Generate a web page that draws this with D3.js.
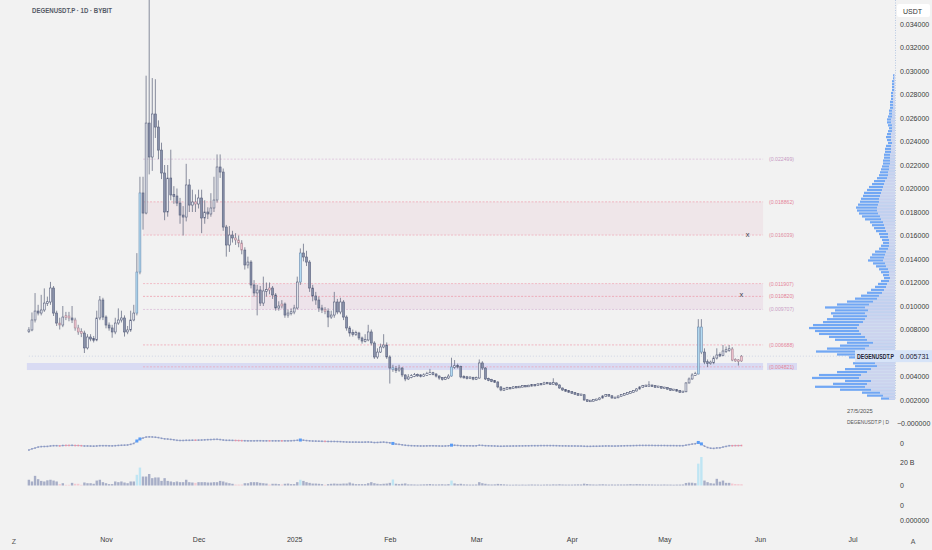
<!DOCTYPE html>
<html>
<head>
<meta charset="utf-8">
<script src="https://cdn.jsdelivr.net/npm/d3@7"></script>
<style>
  body { margin: 0; background: #f2f2f2; }
  svg { display: block; font-family: "Liberation Sans", Arial, sans-serif; }
</style>
</head>
<body>
<script>
// ---- data ----
var symbol = "DEGENUSDT.P";
var titleText = "DEGENUSDT.P · 1D · BYBIT";
var firstOpen = 0.00783;

var closes = [
  0.00796, 0.00881, 0.00957, 0.00940, 0.00966, 0.01025, 0.01034, 0.01153, 0.00940, 0.00855,
  0.00838, 0.00906, 0.00915, 0.00898, 0.00881, 0.00813, 0.00779, 0.00770, 0.00643, 0.00736,
  0.00719, 0.00711, 0.00898, 0.01051, 0.00906, 0.00838, 0.00813, 0.00779, 0.00855, 0.00881,
  0.00898, 0.00779, 0.00796, 0.00881, 0.00940, 0.01289, 0.01962, 0.01791, 0.02557, 0.02268,
  0.02634, 0.02523, 0.02327, 0.02132, 0.01800, 0.02089, 0.01945, 0.01936, 0.01876, 0.01774,
  0.01757, 0.02030, 0.01859, 0.01885, 0.01868, 0.01919, 0.01749, 0.01800, 0.01783, 0.01834,
  0.01902, 0.02183, 0.02140, 0.01672, 0.01519, 0.01604, 0.01579, 0.01562, 0.01536, 0.01476,
  0.01349, 0.01374, 0.01179, 0.01111, 0.01136, 0.01025, 0.01128, 0.01136, 0.01153, 0.01094,
  0.00983, 0.01000, 0.01017, 0.00923, 0.00940, 0.00949, 0.00983, 0.01204, 0.01451, 0.01417,
  0.01374, 0.01153, 0.01085, 0.01051, 0.00983, 0.00966, 0.00957, 0.00906, 0.00923, 0.01034,
  0.00949, 0.01034, 0.00906, 0.00813, 0.00770, 0.00762, 0.00770, 0.00728, 0.00702, 0.00711,
  0.00779, 0.00685, 0.00566, 0.00608, 0.00651, 0.00668, 0.00566, 0.00472, 0.00464, 0.00455,
  0.00472, 0.00413, 0.00379, 0.00396, 0.00404, 0.00413, 0.00410, 0.00404, 0.00413, 0.00421,
  0.00430, 0.00421, 0.00404, 0.00387, 0.00379, 0.00387, 0.00404, 0.00481, 0.00489, 0.00485,
  0.00396, 0.00394, 0.00387, 0.00390, 0.00379, 0.00387, 0.00515, 0.00472, 0.00379, 0.00370,
  0.00362, 0.00353, 0.00311, 0.00285, 0.00294, 0.00302, 0.00300, 0.00311, 0.00308, 0.00313,
  0.00319, 0.00317, 0.00321, 0.00328, 0.00325, 0.00336, 0.00334, 0.00345, 0.00343, 0.00336,
  0.00345, 0.00328, 0.00302, 0.00285, 0.00277, 0.00268, 0.00260, 0.00251, 0.00243, 0.00245,
  0.00200, 0.00191, 0.00193, 0.00200, 0.00203, 0.00217, 0.00234, 0.00243, 0.00236, 0.00217,
  0.00219, 0.00234, 0.00243, 0.00251, 0.00260, 0.00268, 0.00277, 0.00294, 0.00311, 0.00319,
  0.00321, 0.00323, 0.00319, 0.00311, 0.00313, 0.00302, 0.00304, 0.00294, 0.00285, 0.00287,
  0.00277, 0.00268, 0.00270, 0.00345, 0.00379, 0.00413, 0.00421, 0.00821, 0.00608, 0.00523,
  0.00515, 0.00517, 0.00557, 0.00583, 0.00580, 0.00617, 0.00625, 0.00634, 0.00540, 0.00538,
  0.00532, 0.005731
];

var highs = [
  0.00820, 0.00945, 0.01110, 0.01010, 0.01095, 0.01150, 0.01080, 0.01205, 0.01170, 0.00960,
  0.00900, 0.01000, 0.00950, 0.00950, 0.01000, 0.00900, 0.00840, 0.00810, 0.00790, 0.00760,
  0.00760, 0.00745, 0.00960, 0.01085, 0.01070, 0.00920, 0.00860, 0.00840, 0.00900, 0.00980,
  0.00960, 0.00920, 0.00830, 0.00960, 0.01010, 0.01450, 0.02100, 0.02100, 0.02960, 0.03720,
  0.02940, 0.02930, 0.02580, 0.02390, 0.02200, 0.02200, 0.02330, 0.02020, 0.02000, 0.01920,
  0.01850, 0.02210, 0.02080, 0.01990, 0.01950, 0.01990, 0.01990, 0.01900, 0.01840, 0.01960,
  0.02100, 0.02290, 0.02290, 0.02170, 0.01690, 0.01680, 0.01640, 0.01620, 0.01600, 0.01560,
  0.01500, 0.01420, 0.01390, 0.01220, 0.01180, 0.01170, 0.01250, 0.01200, 0.01200, 0.01170,
  0.01110, 0.01040, 0.01050, 0.01030, 0.00970, 0.00980, 0.01010, 0.01250, 0.01490, 0.01530,
  0.01470, 0.01390, 0.01180, 0.01120, 0.01080, 0.01010, 0.00990, 0.00980, 0.00960, 0.01120,
  0.01060, 0.01070, 0.01050, 0.00920, 0.00830, 0.00800, 0.00790, 0.00780, 0.00740, 0.00760,
  0.00840, 0.00800, 0.00700, 0.00640, 0.00680, 0.00760, 0.00690, 0.00580, 0.00500, 0.00490,
  0.00500, 0.00480, 0.00420, 0.00420, 0.00420, 0.00430, 0.00425, 0.00420, 0.00428, 0.00440,
  0.00465, 0.00440, 0.00428, 0.00410, 0.00395, 0.00400, 0.00420, 0.00560, 0.00540, 0.00510,
  0.00492, 0.00410, 0.00405, 0.00402, 0.00398, 0.00400, 0.00545, 0.00530, 0.00480, 0.00390,
  0.00380, 0.00370, 0.00360, 0.00318, 0.00305, 0.00312, 0.00310, 0.00318, 0.00316, 0.00320,
  0.00326, 0.00325, 0.00330, 0.00336, 0.00334, 0.00344, 0.00342, 0.00355, 0.00352, 0.00348,
  0.00385, 0.00350, 0.00332, 0.00306, 0.00290, 0.00282, 0.00274, 0.00265, 0.00256, 0.00252,
  0.00250, 0.00205, 0.00200, 0.00206, 0.00210, 0.00224, 0.00242, 0.00250, 0.00248, 0.00240,
  0.00226, 0.00240, 0.00250, 0.00258, 0.00266, 0.00275, 0.00284, 0.00302, 0.00318, 0.00328,
  0.00330, 0.00360, 0.00330, 0.00326, 0.00320, 0.00318, 0.00312, 0.00309, 0.00298, 0.00293,
  0.00292, 0.00282, 0.00276, 0.00352, 0.00392, 0.00428, 0.00440, 0.00888, 0.00888, 0.00640,
  0.00545, 0.00535, 0.00575, 0.00640, 0.00605, 0.00668, 0.00655, 0.00668, 0.00650, 0.00555,
  0.00548, 0.00582
];

var lows = [
  0.00770, 0.00785, 0.00860, 0.00920, 0.00920, 0.00950, 0.01000, 0.01010, 0.00915, 0.00830,
  0.00800, 0.00820, 0.00880, 0.00870, 0.00855, 0.00790, 0.00755, 0.00735, 0.00600, 0.00630,
  0.00700, 0.00690, 0.00700, 0.00880, 0.00880, 0.00810, 0.00790, 0.00730, 0.00760, 0.00840,
  0.00860, 0.00740, 0.00760, 0.00780, 0.00870, 0.00920, 0.01270, 0.01650, 0.01780, 0.02120,
  0.02150, 0.02430, 0.02250, 0.02080, 0.01730, 0.01760, 0.01900, 0.01870, 0.01850, 0.01700,
  0.01600, 0.01720, 0.01800, 0.01800, 0.01800, 0.01830, 0.01620, 0.01700, 0.01740, 0.01760,
  0.01800, 0.01880, 0.02090, 0.01640, 0.01420, 0.01460, 0.01540, 0.01520, 0.01500, 0.01440,
  0.01310, 0.01320, 0.01150, 0.01080, 0.00920, 0.01000, 0.01000, 0.01080, 0.01100, 0.01060,
  0.00960, 0.00960, 0.00980, 0.00900, 0.00900, 0.00920, 0.00930, 0.00970, 0.01180, 0.01380,
  0.01340, 0.01120, 0.01040, 0.01010, 0.00950, 0.00940, 0.00930, 0.00820, 0.00890, 0.00900,
  0.00930, 0.00930, 0.00880, 0.00790, 0.00740, 0.00740, 0.00745, 0.00710, 0.00680, 0.00690,
  0.00700, 0.00665, 0.00550, 0.00550, 0.00600, 0.00640, 0.00550, 0.00340, 0.00440, 0.00430,
  0.00440, 0.00395, 0.00360, 0.00370, 0.00385, 0.00395, 0.00398, 0.00392, 0.00398, 0.00405,
  0.00412, 0.00410, 0.00392, 0.00372, 0.00365, 0.00370, 0.00378, 0.00398, 0.00465, 0.00468,
  0.00385, 0.00382, 0.00375, 0.00378, 0.00368, 0.00370, 0.00380, 0.00455, 0.00370, 0.00360,
  0.00352, 0.00345, 0.00300, 0.00275, 0.00278, 0.00288, 0.00292, 0.00295, 0.00300, 0.00302,
  0.00308, 0.00310, 0.00312, 0.00316, 0.00318, 0.00320, 0.00328, 0.00330, 0.00336, 0.00330,
  0.00332, 0.00322, 0.00296, 0.00278, 0.00270, 0.00262, 0.00254, 0.00245, 0.00237, 0.00238,
  0.00194, 0.00185, 0.00186, 0.00188, 0.00195, 0.00198, 0.00212, 0.00228, 0.00230, 0.00212,
  0.00212, 0.00214, 0.00229, 0.00238, 0.00246, 0.00255, 0.00263, 0.00272, 0.00288, 0.00305,
  0.00312, 0.00314, 0.00312, 0.00305, 0.00305, 0.00296, 0.00296, 0.00288, 0.00279, 0.00280,
  0.00272, 0.00262, 0.00262, 0.00266, 0.00340, 0.00372, 0.00405, 0.00418, 0.00590, 0.00505,
  0.00480, 0.00500, 0.00505, 0.00545, 0.00565, 0.00572, 0.00600, 0.00610, 0.00530, 0.00525,
  0.00493, 0.00525
];

// daily volume, billions
var volumes = [
  5.0, 3.5, 8.4, 5.5, 4.0, 3.5, 4.5, 5.0, 4.3, 3.5,
  1.2, 2.0, 0.6, 0.6, 2.3, 1.5, 1.5, 0.6, 2.6, 2.0,
  2.0, 1.5, 4.3, 5.0, 2.9, 2.0, 1.2, 1.2, 3.5, 2.9,
  3.5, 2.6, 2.0, 3.5, 3.5, 9.3, 15.6, 7.8, 7.8, 10.0,
  6.4, 7.0, 7.0, 4.0, 6.4, 4.0, 3.5, 2.9, 3.5, 2.9,
  2.9, 5.0, 2.9, 2.6, 2.3, 2.9, 2.9, 2.9, 2.6, 2.6,
  2.9, 2.9, 4.0, 3.5, 2.6, 2.0, 1.5, 0.8, 0.8, 0.8,
  2.0, 2.0, 2.9, 2.9, 2.9, 2.3, 2.0, 1.7, 0.8, 1.5,
  1.5, 1.2, 0.8, 1.5, 1.7, 1.2, 1.2, 2.9, 5.0, 4.0,
  2.9, 2.3, 1.7, 1.7, 1.5, 1.2, 0.6, 1.2, 1.5, 1.7,
  1.5, 1.5, 1.7, 1.7, 2.6, 1.7, 1.2, 1.2, 1.2, 1.2,
  2.0, 2.9, 2.0, 1.5, 1.2, 1.5, 1.7, 2.3, 5.2, 1.5,
  1.2, 1.5, 1.8, 1.0, 1.0, 0.9, 0.8, 0.9, 1.0, 1.1,
  1.3, 1.0, 0.9, 1.0, 1.1, 0.9, 1.2, 4.3, 1.8, 1.2,
  1.5, 1.0, 0.9, 0.8, 0.8, 0.9, 2.9, 2.0, 1.5, 1.0,
  0.9, 1.0, 1.4, 1.2, 1.0, 0.8, 0.7, 0.7, 0.8, 0.7,
  0.8, 0.7, 0.8, 0.9, 0.8, 0.8, 0.7, 0.8, 0.9, 0.8,
  1.0, 0.9, 1.1, 0.9, 0.8, 0.8, 0.8, 0.9, 1.0, 0.9,
  1.6, 1.3, 1.0, 0.9, 0.8, 1.0, 1.1, 0.9, 0.8, 0.9,
  0.8, 0.9, 0.9, 0.9, 1.0, 1.2, 1.0, 1.2, 1.1, 1.0,
  0.9, 1.0, 0.9, 0.8, 0.8, 0.8, 0.9, 0.8, 0.8, 0.7,
  0.8, 0.8, 0.9, 2.2, 2.5, 2.4, 2.0, 19.0, 24.8, 4.3,
  2.9, 2.0, 1.7, 5.8, 3.3, 4.3, 2.3, 2.3, 1.7, 1.3,
  1.2, 1.1
];

// oscillator shown in the first lower pane
var osc = [
  -0.78, -0.65, -0.56, -0.45, -0.40, -0.39, -0.38, -0.33, -0.30, -0.30,
  -0.32, -0.28, -0.27, -0.27, -0.26, -0.28, -0.28, -0.30, -0.33, -0.33,
  -0.34, -0.35, -0.33, -0.30, -0.30, -0.30, -0.31, -0.32, -0.30, -0.27,
  -0.25, -0.24, -0.22, -0.15, -0.05, 0.22, 0.45, 0.55, 0.66, 0.68,
  0.67, 0.64, 0.60, 0.52, 0.46, 0.44, 0.40, 0.36, 0.30, 0.28,
  0.28, 0.30, 0.30, 0.31, 0.31, 0.32, 0.33, 0.35, 0.37, 0.38,
  0.40, 0.41, 0.38, 0.33, 0.30, 0.30, 0.29, 0.28, 0.27, 0.26,
  0.25, 0.24, 0.24, 0.24, 0.25, 0.25, 0.24, 0.24, 0.24, 0.24,
  0.24, 0.24, 0.24, 0.24, 0.24, 0.25, 0.27, 0.30, 0.33, 0.31,
  0.27, 0.24, 0.22, 0.21, 0.20, 0.19, 0.18, 0.17, 0.17, 0.17,
  0.16, 0.15, 0.13, 0.11, 0.10, 0.10, 0.10, 0.09, 0.09, 0.10,
  0.11, 0.09, 0.05, 0.06, 0.08, 0.10, 0.06, 0.02, -0.05, -0.12,
  -0.15, -0.20, -0.25, -0.28, -0.30, -0.31, -0.32, -0.33, -0.33, -0.32,
  -0.31, -0.31, -0.32, -0.33, -0.34, -0.33, -0.31, -0.24, -0.25, -0.27,
  -0.30, -0.31, -0.31, -0.31, -0.32, -0.31, -0.25, -0.27, -0.30, -0.31,
  -0.32, -0.33, -0.35, -0.36, -0.35, -0.34, -0.34, -0.33, -0.33, -0.32,
  -0.32, -0.31, -0.31, -0.30, -0.30, -0.30, -0.29, -0.29, -0.29, -0.29,
  -0.29, -0.30, -0.31, -0.32, -0.32, -0.33, -0.33, -0.33, -0.34, -0.34,
  -0.36, -0.37, -0.37, -0.36, -0.36, -0.35, -0.34, -0.33, -0.33, -0.34,
  -0.34, -0.33, -0.32, -0.31, -0.30, -0.30, -0.29, -0.28, -0.27, -0.27,
  -0.27, -0.27, -0.27, -0.28, -0.28, -0.28, -0.28, -0.29, -0.29, -0.29,
  -0.30, -0.30, -0.30, -0.24, -0.18, -0.12, -0.08, 0.06, -0.10, -0.35,
  -0.50, -0.58, -0.60, -0.55, -0.54, -0.45, -0.38, -0.30, -0.30, -0.29,
  -0.29, -0.28
];

// horizontal levels and zones
var levelPrices = [0.022499, 0.018862, 0.016039, 0.011907, 0.010820, 0.009707, 0.006688, 0.004821];
var zoneLow = [0.016039, 0.009707];
var zoneHigh = [0.018862, 0.011907];
var zoneStart = [new Date(2024, 10, 13), new Date(2024, 11, 18)];
var bandLow = 0.00455, bandHigh = 0.00515;
var markDates = [new Date(2025, 4, 28), new Date(2025, 4, 26)];
var markPrices = [0.01587, 0.01077];

// visible range volume profile, bins of 0.00025 from 0.002
var vpStart = 0.002, vpStep = 0.00025;
var vpTotal = [
  14, 28, 33, 55, 80, 62, 50, 83, 76, 58,
  50, 40, 42, 36, 46, 58, 79, 68, 55, 48,
  60, 66, 76, 80, 86, 82, 72, 68, 62, 64,
  60, 70, 58, 48, 40, 34, 28, 24, 20, 17,
  14, 11, 12, 14, 16, 19, 22, 27, 25, 23,
  20, 16, 14, 12, 13, 15, 16, 19, 21, 23,
  25, 30, 33, 36, 38, 39, 37, 35, 34, 32,
  31, 28, 26, 23, 21, 18, 16, 15, 14, 13,
  12, 12, 11, 11, 10, 10, 9, 7, 8, 9,
  8, 7, 6, 7, 8, 8, 7, 6, 6, 5,
  5, 5, 4, 4, 4, 3, 3, 3, 3, 2,
  2
];
var vpDown = [
  6, 12, 15, 24, 30, 28, 24, 36, 34, 28,
  24, 18, 20, 17, 20, 26, 34, 30, 26, 22,
  28, 30, 34, 36, 38, 36, 32, 30, 28, 30,
  27, 30, 26, 22, 18, 16, 13, 11, 9, 8,
  6, 5, 6, 6, 7, 9, 10, 12, 11, 10,
  9, 7, 6, 6, 6, 7, 7, 9, 10, 11,
  12, 14, 15, 17, 18, 18, 17, 16, 16, 15,
  14, 13, 12, 11, 10, 8, 7, 7, 6, 6,
  5, 5, 5, 5, 4, 4, 4, 3, 4, 4,
  4, 3, 3, 3, 4, 4, 3, 3, 3, 2,
  2, 2, 2, 2, 2, 1, 1, 1, 1, 1,
  1
];

var tickDates = [new Date(2024, 10, 1), new Date(2024, 11, 1), new Date(2025, 0, 1), new Date(2025, 1, 1),
  new Date(2025, 2, 1), new Date(2025, 3, 1), new Date(2025, 4, 1), new Date(2025, 5, 1), new Date(2025, 6, 1)];
var tickLabels = ["Nov", "Dec", "2025", "Feb", "Mar", "Apr", "May", "Jun", "Jul"];

// ---- chart ----
var w = 932, h = 550;
var svg = d3.select("body").append("svg").attr("width", w).attr("height", h);
svg.append("rect").attr("width", w).attr("height", h).attr("fill", "#f2f2f2");

var startDay = new Date(2024, 9, 7);
var candles = closes.map(function (c, i) {
  var o = i === 0 ? firstOpen : closes[i - 1];
  var avg = d3.mean(volumes.slice(Math.max(0, i - 19), i + 1));
  var r = volumes[i] / avg;
  return {
    date: d3.timeDay.offset(startDay, i), o: o, c: c, h: highs[i], l: lows[i], v: volumes[i], osc: osc[i],
    tone: r > 2.5 ? "high" : (r < 0.45 ? "low" : (c >= o ? "up" : "down"))
  };
});

var xScale = d3.scaleTime().domain([new Date(2024, 10, 1), new Date(2025, 5, 1)]).range([106, 760]);
var yScale = d3.scaleLinear().domain([0, 0.034]).range([423.5, 24]);
var volScale = d3.scaleLinear().domain([0, 20]).range([485.5, 462.5]);
var oscScale = d3.scaleLinear().domain([-1, 1]).range([452, 434]);
var vpScale = d3.scaleLinear().domain([0, 86]).range([0, 86]);

var fills = { up: "#eceef4", down: "#8891aa", high: "#b3dbf3", low: "#f3c5d0" };
var strokes = { up: "#59607c", down: "#59607c", high: "#6d8db0", low: "#a98a98" };
var volFills = { up: "#a7aec7", down: "#a7aec7", high: "#bfe5f3", low: "#f3c9d1" };

svg.append("clipPath").attr("id", "pane").append("rect")
  .attr("x", 0).attr("y", 0).attr("width", 896).attr("height", 428);
var pane = svg.append("g").attr("clip-path", "url(#pane)");

var levelEnd = new Date(2025, 5, 2);
var levelStart = new Date(2024, 10, 13);

// support band
pane.append("rect")
  .attr("x", xScale(startDay) - 2).attr("width", xScale(levelEnd) - xScale(startDay) + 2)
  .attr("y", yScale(bandHigh)).attr("height", yScale(bandLow) - yScale(bandHigh))
  .attr("fill", "#d9dbf3");

// zones
zoneLow.forEach(function (lo, i) {
  pane.append("rect")
    .attr("x", xScale(zoneStart[i])).attr("width", xScale(levelEnd) - xScale(zoneStart[i]))
    .attr("y", yScale(zoneHigh[i])).attr("height", yScale(lo) - yScale(zoneHigh[i]))
    .attr("fill", i === 0 ? "#efe6e9" : "#ede3ea");
});

var levelLine = ["#dcc0da", "#f0a8b6", "#f0b0bd", "#f0aebb", "#ee9fae", "#dbbcd8", "#f0a8b6", "#eaa8bc"];
var levelText = ["#c89bc4", "#e5859a", "#e08ca0", "#e5869a", "#e27f94", "#c99dc5", "#e5859a", "#e5859a"];

pane.selectAll("line.level").data(levelPrices).enter().append("line")
  .attr("class", "level")
  .attr("x1", xScale(levelStart)).attr("x2", xScale(levelEnd))
  .attr("y1", function (d) { return yScale(d); }).attr("y2", function (d) { return yScale(d); })
  .attr("stroke", function (d, i) { return levelLine[i]; })
  .attr("stroke-width", 0.8).attr("stroke-dasharray", "2,1.5");

// last price line
var last = candles[candles.length - 1];
pane.append("line")
  .attr("x1", xScale(startDay)).attr("x2", 896)
  .attr("y1", yScale(last.c)).attr("y2", yScale(last.c))
  .attr("stroke", "#c3cadf").attr("stroke-width", 0.7).attr("stroke-dasharray", "1,2");

// volume profile
var vpRows = vpTotal.map(function (t, i) {
  return { lo: vpStart + i * vpStep, hi: vpStart + (i + 1) * vpStep, total: t, down: vpDown[i] };
});
var vp = pane.append("g");
vp.selectAll("rect.vpt").data(vpRows).enter().append("rect")
  .attr("class", "vpt")
  .attr("x", function (d) { return 895 - vpScale(d.total); })
  .attr("width", function (d) { return vpScale(d.total); })
  .attr("y", function (d) { return yScale(d.hi) + 0.35; })
  .attr("height", function (d) { return yScale(d.lo) - yScale(d.hi) - 0.7; })
  .attr("fill", "#5e9cf4").attr("opacity", 0.88);
vp.selectAll("rect.vpd").data(vpRows).enter().append("rect")
  .attr("class", "vpd")
  .attr("x", function (d) { return 895 - vpScale(d.down); })
  .attr("width", function (d) { return vpScale(d.down); })
  .attr("y", function (d) { return yScale(d.hi) + 0.35; })
  .attr("height", function (d) { return yScale(d.lo) - yScale(d.hi) - 0.7; })
  .attr("fill", "#e4e0ec").attr("opacity", 0.8);

svg.append("line").attr("x1", 895.5).attr("x2", 895.5).attr("y1", 0).attr("y2", 400)
  .attr("stroke", "#9fb7dc").attr("stroke-width", 0.7).attr("stroke-dasharray", "1,1.5");

// candles
var bw = 1.9;
var cg = pane.selectAll("g.candle").data(candles).enter().append("g").attr("class", "candle");
cg.append("line")
  .attr("x1", function (d) { return xScale(d.date); }).attr("x2", function (d) { return xScale(d.date); })
  .attr("y1", function (d) { return yScale(d.h); }).attr("y2", function (d) { return yScale(d.l); })
  .attr("stroke", "#6b7186").attr("stroke-width", 0.8);
cg.append("rect")
  .attr("x", function (d) { return xScale(d.date) - bw / 2; })
  .attr("width", bw)
  .attr("y", function (d) {
    var top = yScale(Math.max(d.o, d.c)), hgt = Math.abs(yScale(d.o) - yScale(d.c));
    return hgt < 1.6 ? top - (1.6 - hgt) / 2 : top;
  })
  .attr("height", function (d) { return Math.max(1.6, Math.abs(yScale(d.o) - yScale(d.c))); })
  .attr("fill", function (d) { return fills[d.tone]; })
  .attr("stroke", function (d) { return strokes[d.tone]; })
  .attr("stroke-width", 0.6);

// level labels
svg.append("rect")
  .attr("x", 767).attr("width", 30)
  .attr("y", yScale(bandHigh)).attr("height", yScale(bandLow) - yScale(bandHigh))
  .attr("fill", "#d9dbf3");
svg.selectAll("text.level").data(levelPrices).enter().append("text")
  .attr("class", "level")
  .attr("x", 769).attr("y", function (d) { return yScale(d) + 2; })
  .attr("font-size", 5.2)
  .attr("fill", function (d, i) { return levelText[i]; })
  .text(function (d) { return "(" + d.toFixed(6) + ")"; });

svg.selectAll("text.mark").data(markPrices).enter().append("text")
  .attr("class", "mark")
  .attr("x", function (d, i) { return xScale(markDates[i]); })
  .attr("y", function (d) { return yScale(d); })
  .attr("text-anchor", "middle").attr("font-size", 7.5).attr("fill", "#3a3d4a")
  .text("x");

// oscillator pane
var oscLine = d3.line()
  .x(function (d) { return xScale(d.date); })
  .y(function (d) { return oscScale(d.osc); });
svg.append("path").datum(candles).attr("d", oscLine)
  .attr("fill", "none").attr("stroke", "#a3adcc").attr("stroke-width", 0.8);
svg.selectAll("rect.oscpt").data(candles).enter().append("rect")
  .attr("class", "oscpt")
  .attr("x", function (d) { return xScale(d.date) - (d.tone === "high" ? 1.5 : 0.8); })
  .attr("y", function (d) { return oscScale(d.osc) - (d.tone === "high" ? 1.5 : 0.8); })
  .attr("width", function (d) { return d.tone === "high" ? 3 : 1.6; })
  .attr("height", function (d) { return d.tone === "high" ? 3 : 1.6; })
  .attr("fill", function (d) { return d.tone === "high" ? "#5a9cf5" : (d.tone === "low" ? "#ee8fa2" : "#8c9ac4"); });

// volume pane
svg.selectAll("rect.vol").data(candles).enter().append("rect")
  .attr("class", "vol")
  .attr("x", function (d) { return xScale(d.date) - 1.2; })
  .attr("width", 2.4)
  .attr("y", function (d) { return volScale(d.v); })
  .attr("height", function (d) { return volScale(0) - volScale(d.v); })
  .attr("fill", function (d) { return volFills[d.tone]; });

// axes
var axisText = function (g) {
  g.select(".domain").remove();
  g.selectAll("text").attr("fill", "#3b3b3b").attr("font-size", 7)
    .attr("font-family", "Liberation Sans, Arial, sans-serif");
};
var ly = yScale(last.c);
// the last-price tag covers any tick label right behind it
var priceTicks = d3.range(0, 0.0345, 0.002).filter(function (d) { return Math.abs(yScale(d) - ly) > 8; });
var priceAxis = svg.append("g").attr("transform", "translate(896,0)")
  .call(d3.axisRight(yScale).tickValues(priceTicks).tickSize(0).tickPadding(4)
    .tickFormat(function (d) { return d < 0.0001 ? "\u22120.000000" : d.toFixed(6); }))
  .call(axisText);
priceAxis.selectAll("text").filter(function (d) { return d < 0.0001; }).attr("x", 1);
svg.append("g").attr("transform", "translate(896,0)")
  .call(d3.axisRight(oscScale).tickValues([0]).tickSize(0).tickPadding(4).tickFormat(function () { return "0"; }))
  .call(axisText);
svg.append("g").attr("transform", "translate(896,0)")
  .call(d3.axisRight(volScale).tickValues([0, 20]).tickSize(0).tickPadding(4)
    .tickFormat(function (d) { return d ? d + " B" : "0"; }))
  .call(axisText);
svg.append("text").attr("x", 900).attr("y", 508).attr("font-size", 7).attr("fill", "#3b3b3b").text("0");
svg.append("text").attr("x", 900).attr("y", 523).attr("font-size", 7).attr("fill", "#3b3b3b").text("0.000000");

svg.append("g").attr("transform", "translate(0,534)")
  .call(d3.axisBottom(xScale).tickValues(tickDates).tickSize(0).tickPadding(3)
    .tickFormat(function (d, i) { return tickLabels[i]; }))
  .call(axisText);
svg.append("text").attr("x", 14).attr("y", 544).attr("font-size", 7).attr("fill", "#555").attr("text-anchor", "middle").text("Z");
svg.append("text").attr("x", 913).attr("y", 544).attr("font-size", 7).attr("fill", "#555").attr("text-anchor", "middle").text("A");

// USDT box
svg.append("rect").attr("x", 897).attr("y", 4).attr("width", 33).attr("height", 13).attr("rx", 2).attr("fill", "#ffffff");
svg.append("text").attr("x", 903).attr("y", 13.5).attr("font-size", 7).attr("fill", "#333").text("USDT");

// last price tags
svg.append("rect").attr("x", 855).attr("y", ly - 6).attr("width", 41).attr("height", 12).attr("fill", "#d7e4f8");
svg.append("text").attr("x", 857).attr("y", ly + 2.5).attr("font-size", 6.4).attr("font-weight", "bold")
  .attr("textLength", 37).attr("lengthAdjust", "spacingAndGlyphs").attr("fill", "#1e2233").text(symbol);
svg.append("rect").attr("x", 896).attr("y", ly - 6).attr("width", 36).attr("height", 12).attr("fill", "#d7e4f8");
svg.append("text").attr("x", 900).attr("y", ly + 2.5).attr("font-size", 7).attr("fill", "#1e2233").text(last.c.toFixed(6));

// info + title
svg.append("text").attr("x", 847).attr("y", 413).attr("font-size", 5.8).attr("fill", "#555").text("27/5/2025");
svg.append("text").attr("x", 847).attr("y", 424).attr("font-size", 5.8).attr("fill", "#555")
  .attr("textLength", 42).attr("lengthAdjust", "spacingAndGlyphs").text(symbol + " | D");
svg.append("text").attr("x", 32).attr("y", 12.5).attr("font-size", 7.5).attr("font-weight", "bold")
  .attr("textLength", 80).attr("lengthAdjust", "spacingAndGlyphs")
  .attr("fill", "#555a66").text(titleText);
</script>
</body>
</html>
